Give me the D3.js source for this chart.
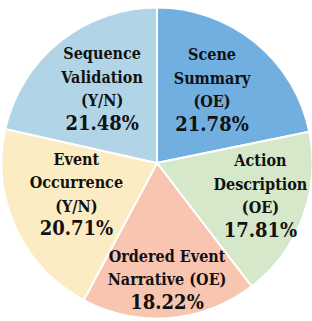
<html>
<head>
<meta charset="utf-8">
<script src="https://cdn.jsdelivr.net/npm/d3@7"></script>
<style>
  body { margin: 0; background: #fff; }
</style>
</head>
<body>
<svg id="chart" width="312" height="321"></svg>
<script>
// slices in clockwise order starting at 12 o'clock
const names = [
  ["Scene", "Summary", "(OE)"],
  ["Action", "Description", "(OE)"],
  ["Ordered Event", "Narrative (OE)"],
  ["Event", "Occurrence", "(Y/N)"],
  ["Sequence", "Validation", "(Y/N)"]
];
const shares = [21.78, 17.81, 18.22, 20.71, 21.48];
const colors = ["#70afdf", "#d5e8c9", "#f8c5b1", "#fcecc3", "#b1d5e7"];

let cx = 157, cy = 163, radius = 155.5;
// how far out each label sits, as part of the radius
let labelK = [0.56, 0.71, 0.79, 0.57, 0.565];
let lineH = 23.5;
let serif = "'DejaVu Serif Condensed', 'DejaVu Serif', serif";

let svg = d3.select("#chart");
let g = svg.append("g").attr("transform", `translate(${cx},${cy})`);

let data = shares.map((v, i) => ({ v: v, lines: names[i], color: colors[i], k: labelK[i] }));

let pie = d3.pie().value(d => d.v).sort(null);
let arc = d3.arc().innerRadius(0).outerRadius(radius);
let arcs = pie(data);

g.selectAll("path")
  .data(arcs)
  .join("path")
    .attr("d", arc)
    .attr("fill", d => d.data.color)
    .attr("stroke", "#fff")
    .attr("stroke-width", 2);

let labels = g.selectAll("g.lbl")
  .data(arcs)
  .join("g")
    .attr("class", "lbl")
    .attr("transform", d => {
      let a = (d.startAngle + d.endAngle) / 2;
      let r = radius * d.data.k;
      return `translate(${r * Math.sin(a)},${-r * Math.cos(a)})`;
    });

labels.each(function(d) {
  let rows = d.data.lines.concat([d3.format(".2f")(d.data.v) + "%"]);
  let n = rows.length;
  d3.select(this).selectAll("text")
    .data(rows)
    .join("text")
      .attr("text-anchor", "middle")
      .attr("y", (t, i) => (i - (n - 1) / 2) * lineH)
      .style("font-family", serif)
      .style("font-weight", "700")
      .attr("fill", "#111")
      .style("font-size", (t, i) => (i == n - 1 ? 20 : 16) + "px")
      .text(t => t);
});
</script>
</body>
</html>
